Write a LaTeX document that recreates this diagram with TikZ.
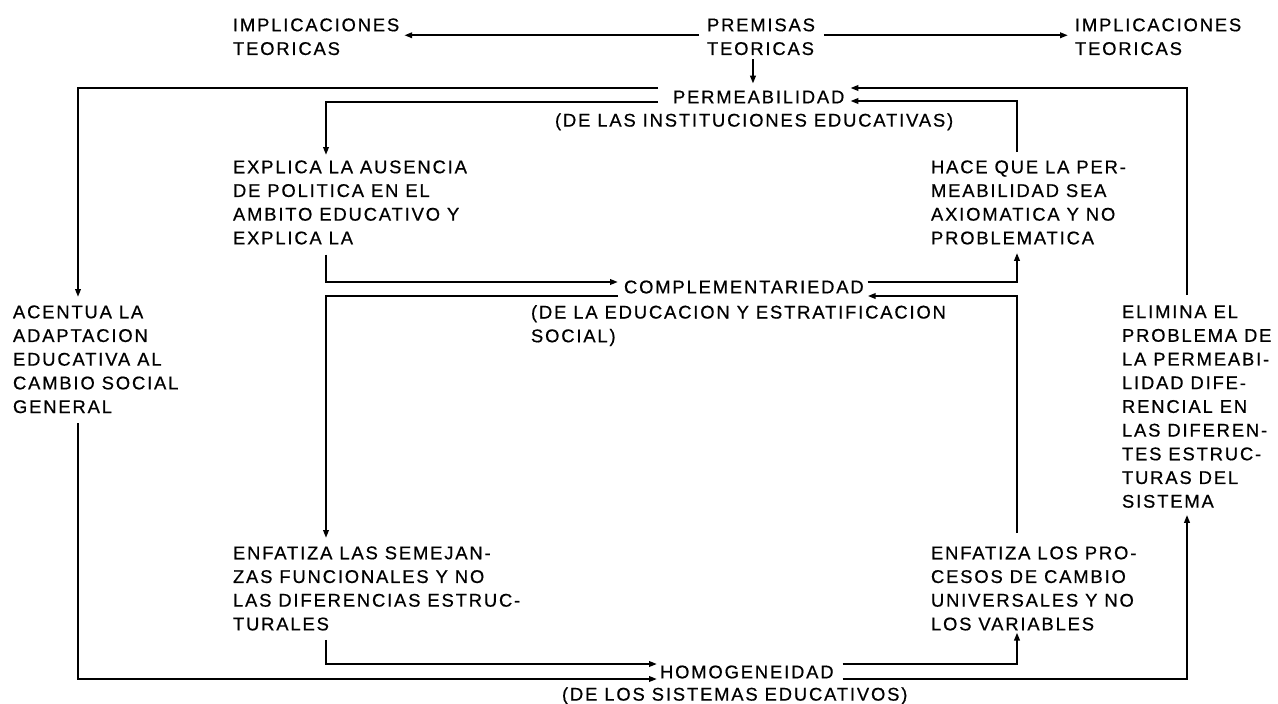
\documentclass[tikz,border=0pt]{standalone}
\usepackage{fontspec}
\setmainfont{Liberation Sans}[LetterSpace=10,FakeBold=0.6]
\usetikzlibrary{arrows.meta,calc}
\begin{document}
\begin{tikzpicture}[x=1pt,y=-1pt,
  txt/.style={inner sep=0pt,outer sep=0pt,align=left,font=\fontsize{18.4}{23.7}\selectfont},
  lbl/.style={txt,anchor=north west},
  word/.style={txt,anchor=west},
  sub/.style={txt,anchor=base west},
  conn/.style={line width=2pt},
  arr/.style={conn,-{Triangle[length=8pt,width=5.5pt]}}
]
\useasboundingbox (0,0) rectangle (1278,704);
\fill[white] (0,0) rectangle (1278,704);

% nodes
\node[lbl] (implL) at (233,18.4) {IMPLICACIONES\\TEORICAS};
\node[lbl] (prem) at (707,18.4) {PREMISAS\\TEORICAS};
\node[lbl] (implR) at (1075,18.4) {IMPLICACIONES\\TEORICAS};
\node[word] (perm) at (673,97) {PERMEABILIDAD};
\node[sub] (permsub) at (555,126.6) {(DE LAS INSTITUCIONES EDUCATIVAS)};
\node[lbl] (expl) at (233,160.4) {EXPLICA LA AUSENCIA\\DE POLITICA EN EL\\AMBITO EDUCATIVO Y\\EXPLICA LA};
\node[lbl] (hace) at (931,160.4) {HACE QUE LA PER-\\MEABILIDAD SEA\\AXIOMATICA Y NO\\PROBLEMATICA};
\node[word] (comp) at (624,287) {COMPLEMENTARIEDAD};
\node[lbl] (compsub) at (531,305.2) {(DE LA EDUCACION Y ESTRATIFICACION\\SOCIAL)};
\node[lbl] (acent) at (13,305.4) {ACENTUA LA\\ADAPTACION\\EDUCATIVA AL\\CAMBIO SOCIAL\\GENERAL};
\node[lbl] (elim) at (1122,305.4) {ELIMINA EL\\PROBLEMA DE\\LA PERMEABI-\\LIDAD DIFE-\\RENCIAL EN\\LAS DIFEREN-\\TES ESTRUC-\\TURAS DEL\\SISTEMA};
\node[lbl] (enfL) at (233,546.4) {ENFATIZA LAS SEMEJAN-\\ZAS FUNCIONALES Y NO\\LAS DIFERENCIAS ESTRUC-\\TURALES};
\node[lbl] (enfR) at (931,546.4) {ENFATIZA LOS PRO-\\CESOS DE CAMBIO\\UNIVERSALES Y NO\\LOS VARIABLES};
\node[word] (homo) at (660,672) {HOMOGENEIDAD};
\node[sub] (homosub) at (562,700.6) {(DE LOS SISTEMAS EDUCATIVOS)};

% connectors
\draw[arr] ($(prem.west)+(-8,-1.5)$) -- ($(implL.east)+(5,-1.5)$);
\draw[arr] ($(prem.east)+(9,-1.5)$) -- ($(implR.west)+(-7,-1.5)$);
\draw[arr] ($(prem.south)+(-8,4)$) -- ($(prem.south |- perm.north)+(-8,-7)$);
\draw[arr] ($(perm.west)+(-15,-9)$) -| ($(acent.north west)+(65,-8.4)$);
\draw[arr] ($(perm.west)+(-15,5)$) -| ($(expl.north west)+(93,-5.4)$);
\draw[arr] ($(hace.north west)+(86,-8.4)$) |- ($(perm.east)+(6,4)$);
\draw[arr] ($(elim.north west)+(65,-10.4)$) |- ($(perm.east)+(6,-9)$);
\draw[arr] ($(expl.south west)+(93,10)$) |- ($(comp.west)+(-6,-5)$);
\draw[arr] ($(comp.west)+(-6,9)$) -| ($(enfL.north west)+(93,-8.4)$);
\draw[arr] ($(comp.east)+(4,-5)$) -| ($(hace.south west)+(86,8.4)$);
\draw[arr] ($(enfR.north west)+(86,-13.4)$) |- ($(comp.east)+(4,9)$);
\draw[arr] ($(enfL.south west)+(93,9.3)$) |- ($(homo.west)+(-3,-8)$);
\draw[arr] ($(acent.south west)+(65,10)$) |- ($(homo.west)+(-3,7)$);
\draw[arr] ($(homo.east)+(9,-8)$) -| ($(enfR.south west)+(86,2)$);
\draw[arr] ($(homo.east)+(9,7)$) -| ($(elim.south west)+(65,7)$);
\end{tikzpicture}
\end{document}
